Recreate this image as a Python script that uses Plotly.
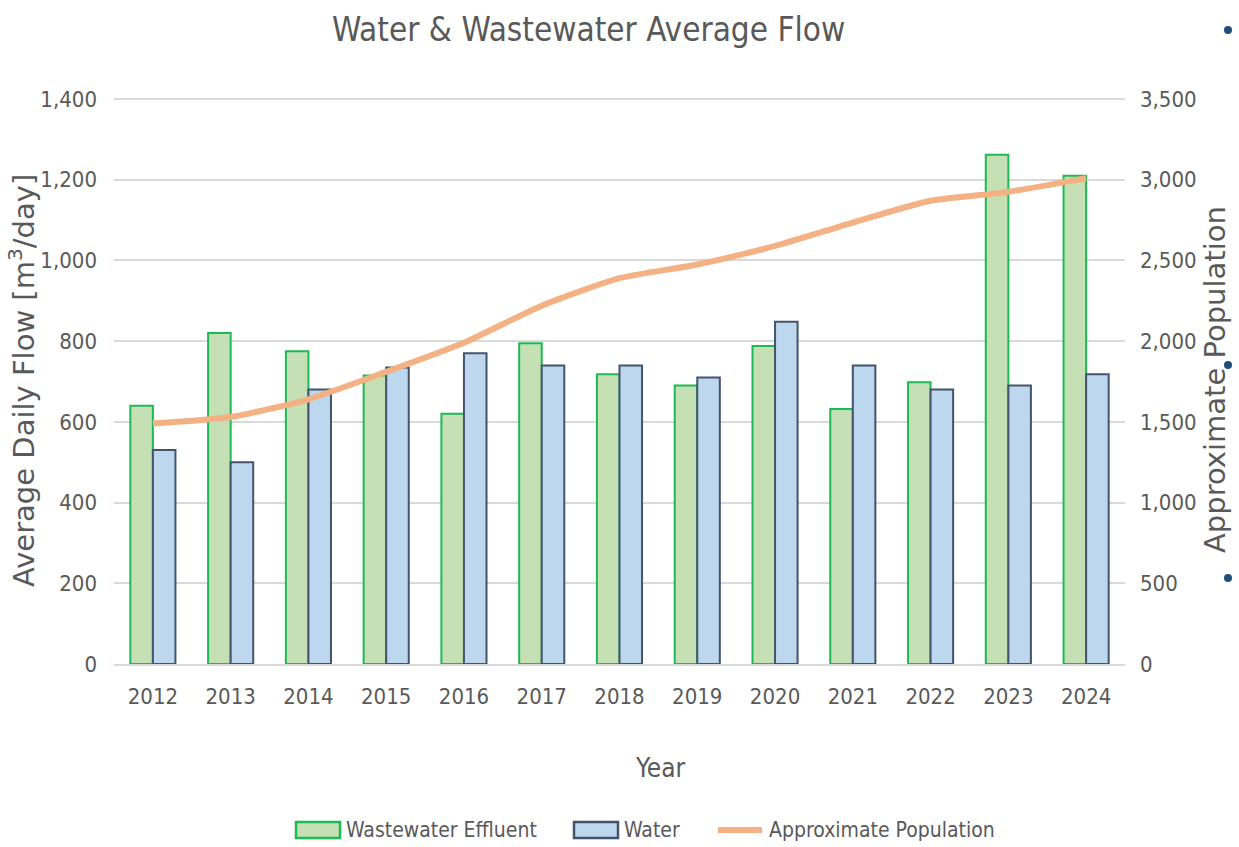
import plotly.graph_objects as go

years = ["2012", "2013", "2014", "2015", "2016", "2017", "2018", "2019", "2020", "2021", "2022", "2023", "2024"]
wastewater = [640, 820, 775, 715, 620, 795, 718, 690, 788, 632, 698, 1262, 1210]
water = [530, 500, 680, 735, 770, 740, 740, 710, 848, 740, 680, 690, 718]
population = [1490, 1530, 1640, 1810, 1990, 2220, 2390, 2475, 2590, 2735, 2870, 2925, 3010]
flow_ticks = [0, 200, 400, 600, 800, 1000, 1200, 1400]
pop_ticks = [0, 500, 1000, 1500, 2000, 2500, 3000, 3500]

NARROW = "DejaVu Sans Condensed, Liberation Sans Narrow, Arial Narrow, sans-serif"
WIDE = "DejaVu Sans, Liberation Sans, Arial, sans-serif"
GREY = "#595959"
GREEN_FILL, GREEN_LINE = "#c5e0b4", "#1db954"
BLUE_FILL, BLUE_LINE = "#bdd7ee", "#44546a"
ORANGE = "#f4b183"

# plot area in pixels: left 114, right 1125, top 95 (1400 gridline at 99), bottom 664
L, R, T, B = 114, 1125, 95, 664
def px(xp):
    return (xp - L) / (R - L)
def py(yp):
    return (B - yp) / (B - T)

fig = go.Figure()
fig.add_trace(go.Bar(
    x=years, y=wastewater, name="Wastewater Effluent",
    marker=dict(color=GREEN_FILL, line=dict(color=GREEN_LINE, width=2)),
    yaxis="y",
))
fig.add_trace(go.Bar(
    x=years, y=water, name="Water",
    marker=dict(color=BLUE_FILL, line=dict(color=BLUE_LINE, width=2)),
    yaxis="y",
))
fig.add_trace(go.Scatter(
    x=years, y=population, name="Approximate Population",
    mode="lines", line=dict(color=ORANGE, width=6, shape="spline", smoothing=0.6),
    yaxis="y2",
))

annotations = [
    dict(text="Average Daily Flow [m<sup>3</sup>/day]", xref="paper", yref="paper",
         x=px(22), y=py(381), textangle=-90, showarrow=False,
         xanchor="center", yanchor="middle", font=dict(family=WIDE, size=29, color=GREY)),
    dict(text="Approximate Population", xref="paper", yref="paper",
         x=px(1215), y=py(380), textangle=-90, showarrow=False,
         xanchor="center", yanchor="middle", font=dict(family=WIDE, size=29, color=GREY)),
    dict(text="Year", xref="paper", yref="paper", x=px(660), y=py(768), showarrow=False,
         xanchor="center", yanchor="middle", font=dict(family=NARROW, size=26, color=GREY)),
]

# custom legend
legend_items = [
    ("Wastewater Effluent", "rect", GREEN_FILL, GREEN_LINE, 296, 340, 344),
    ("Water", "rect", BLUE_FILL, BLUE_LINE, 574, 618, 622),
    ("Approximate Population", "line", ORANGE, ORANGE, 718, 762, 767),
]
shapes = []
for label, kind, fill, edge, x0, x1, xt in legend_items:
    if kind == "rect":
        shapes.append(dict(type="rect", xref="paper", yref="paper",
                           x0=px(x0), x1=px(x1), y0=py(838), y1=py(822),
                           fillcolor=fill, line=dict(color=edge, width=2.5)))
    else:
        shapes.append(dict(type="line", xref="paper", yref="paper",
                           x0=px(x0), x1=px(x1), y0=py(830), y1=py(830),
                           line=dict(color=edge, width=6)))
    annotations.append(dict(text=label, xref="paper", yref="paper", x=px(xt), y=py(830),
                            showarrow=False, xanchor="left", yanchor="middle",
                            font=dict(family=NARROW, size=21, color=GREY)))

# slide bullet dots at right edge
for yb in [30, 365, 578]:
    shapes.append(dict(type="circle", xref="paper", yref="paper",
                       xsizemode="pixel", ysizemode="pixel",
                       xanchor=px(1228), yanchor=py(yb),
                       x0=-4, x1=4, y0=-4, y1=4,
                       fillcolor="#1f4e79", line=dict(width=0)))

fig.update_layout(
    width=1239, height=847,
    margin=dict(l=L, r=1239 - R, t=T, b=847 - B, autoexpand=False),
    paper_bgcolor="white", plot_bgcolor="white",
    barmode="group", bargap=0.42, bargroupgap=0.0,
    title=dict(text="Water & Wastewater Average Flow", x=0.475, xanchor="center",
               y=0.965, yanchor="middle",
               font=dict(family=NARROW, size=33, color=GREY)),
    font=dict(family=NARROW, color=GREY),
    showlegend=False,
    hovermode=False,
    xaxis=dict(
        type="category", showgrid=False, showline=True, linecolor="#d9d9d9", linewidth=2,
        ticks="", tickfont=dict(family=NARROW, size=22, color=GREY),
        ticklabelstandoff=12, automargin=False,
    ),
    yaxis=dict(
        range=[0, 1410], tickvals=flow_ticks,
        tickformat=",", showgrid=True,
        gridcolor="#d9d9d9", gridwidth=2, zeroline=False, ticks="",
        tickfont=dict(family=NARROW, size=22, color=GREY),
        ticklabelstandoff=16, automargin=False,
    ),
    yaxis2=dict(
        range=[0, 3525], tickvals=pop_ticks,
        tickformat=",", overlaying="y", side="right",
        showgrid=False, zeroline=False, ticks="",
        tickfont=dict(family=NARROW, size=22, color=GREY),
        ticklabelstandoff=14, automargin=False,
    ),
    annotations=annotations,
    shapes=shapes,
)

fig.write_html("out.html", config={"displayModeBar": False},
               post_script="document.body.style.margin='0px';document.body.style.overflow='hidden';")
